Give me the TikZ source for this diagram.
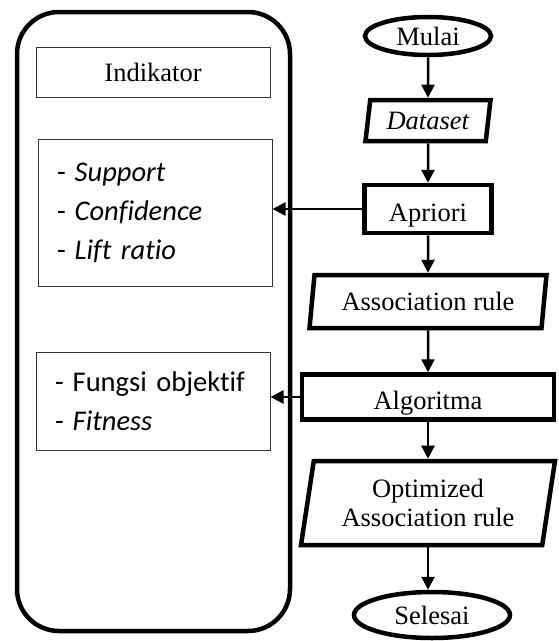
\documentclass[tikz,border=0pt]{standalone}
\usepackage{fontspec}
\setmainfont{Liberation Serif}
\newfontfamily\calibri[Ligatures=NoCommon]{Carlito}
\usetikzlibrary{shapes.geometric,arrows.meta}

\begin{document}
\begin{tikzpicture}
  [x=1pt, y=-1pt,
   font=\fontsize{26.5}{29}\selectfont,
   terminal/.style={ellipse, draw=black, line width=4.5pt, inner sep=0pt},
   inout/.style={trapezium, trapezium left angle=75, trapezium right angle=105,
     trapezium stretches body, draw=black, line width=4.5pt, align=center, inner sep=0pt},
   process/.style={rectangle, draw=black, line width=4.5pt, inner sep=0pt,
     text height=24pt, text depth=0pt},
   labelbox/.style={rectangle, draw=black!80, line width=1pt},
   listbox/.style={rectangle, draw=black!80, line width=1pt, inner xsep=19pt,
     text width=196pt, align=left, font=\calibri\fontsize{28.5}{39}\selectfont},
   panel/.style={rectangle, rounded corners=42pt, draw=black, line width=4.5pt},
   flow/.style={line width=2.5pt, -{Triangle[length=13pt, width=13pt]}}]

  \useasboundingbox (0,0) rectangle (558,641);

  % kolom kiri
  \node[panel, minimum width=273pt, minimum height=619pt] (panel) at (153.5,321.5) {};
  \node[labelbox, minimum width=234pt, minimum height=50pt] (indikator) at (153,72) {Indikator};
  \node[listbox, minimum height=147pt] (ukuran) at (155,212.5)
    {-\hspace{9pt}\textit{Support}\\ -\hspace{9pt}\textit{Confidence}\\ -\hspace{9pt}\textit{Lift~ratio}};
  \node[listbox, minimum height=98pt] (fungsi) at (153,401)
    {-\hspace{9pt}Fungsi~objektif\\ -\hspace{9pt}\textit{Fitness}};

  % alur kanan
  \node[terminal, minimum width=126pt, minimum height=38pt] (mulai) at (428,36) {Mulai};
  \node[inout, minimum width=125pt, minimum height=41pt] (dataset) at (428,120.5) {\textit{Dataset}};
  \node[process, minimum width=127pt, minimum height=48pt] (apriori) at (428,209) {Apriori};
  \node[inout, minimum width=237pt, minimum height=53pt] (rule) at (428,301.5) {Association rule};
  \node[process, minimum width=252pt, minimum height=45pt] (algoritma) at (428,397) {Algoritma};
  \node[inout, minimum width=254pt, minimum height=84pt] (optimized) at (428,503) {Optimized\\ Association rule};
  \node[terminal, minimum width=156pt, minimum height=46pt] (selesai) at (432,615) {Selesai};

  \draw[flow] (mulai) -- (dataset);
  \draw[flow] (dataset) -- (apriori);
  \draw[flow] (apriori) -- (rule);
  \draw[flow] (rule) -- (algoritma);
  \draw[flow] (algoritma) -- (optimized);
  \draw[flow] (optimized.south) -- (optimized.south |- selesai.north);
  \draw[flow] (apriori.west) -- (apriori.west -| ukuran.east);
  \draw[flow] (algoritma.west) -- (algoritma.west -| fungsi.east);

\end{tikzpicture}
\end{document}
